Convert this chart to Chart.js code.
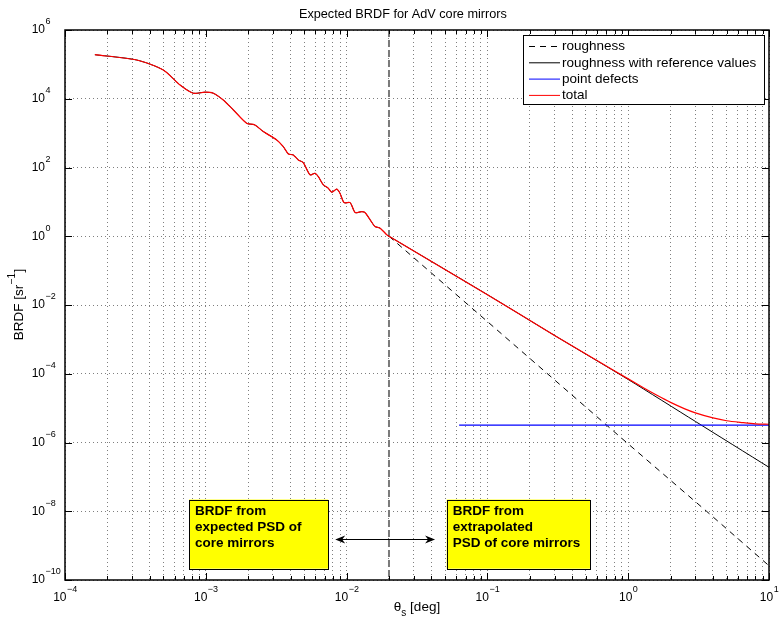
<!DOCTYPE html>
<html><head><meta charset="utf-8">
<script src="https://cdn.jsdelivr.net/npm/chart.js@4"></script>
<style>html,body{margin:0;padding:0;background:#fff}canvas{display:block}</style>
</head><body>
<canvas id="c" width="779" height="618"></canvas>
<script>
const FONT = '"Liberation Sans", Arial, Helvetica, sans-serif';

// ---- data ----
// low-angle part (BRDF from expected PSD) shared by roughness & total
const lowTheta = [1.63e-4, 3.23e-4, 4.99e-4, 6.56e-4, 8.15e-4, 9.86e-4, 1.13e-3, 1.33e-3, 1.57e-3, 1.95e-3, 2.23e-3, 2.56e-3, 3.19e-3, 3.55e-3, 3.86e-3, 4.18e-3, 4.54e-3, 4.92e-3, 5.50e-3, 5.97e-3, 6.30e-3, 6.84e-3, 7.41e-3, 7.83e-3, 8.51e-3, 8.97e-3, 9.60e-3, 1.06e-2, 1.15e-2, 1.28e-2, 1.35e-2, 1.47e-2, 1.59e-2, 1.73e-2, 1.93e-2, 2.0e-2];
const lowBrdf  = [1.91e5, 1.34e5, 6.87e4, 2.52e4, 1.45e4, 1.55e4, 1.45e4, 9.2e3, 4.72e3, 1.94e3, 1.73e3, 1.11e3, 634, 405, 248, 232, 166, 139, 61, 68, 54, 31.2, 25, 19.1, 23.4, 17.9, 9.5, 9.5, 4.89, 5.2, 4.9, 3.0, 1.92, 1.72, 1.1, 1.0];

// roughness (dashed, extrapolated)
const roughTheta = [0.02, 0.1, 1, 3.6, 10];
const roughBrdf  = [1.0, 3.3e-3, 9.1e-7, 1.0e-8, 2.6e-10];

// roughness with reference values
const refTheta = [0.1, 0.3, 1, 3, 10];
const refBrdf  = [0.02, 1.3e-3, 6.8e-5, 4.1e-6, 1.9e-7];

// point defects
const defectTheta = [0.063, 10];
const defectBrdf  = [3.2e-6, 3.2e-6];

// total
const totalTheta = [0.1, 0.3, 0.6, 1, 1.3, 1.6, 2, 2.5, 3, 4, 5, 6.5, 8, 10];
const totalBrdf  = [0.02, 1.3e-3, 2.43e-4, 7.1e-5, 3.78e-5, 2.36e-5, 1.47e-5, 9.7e-6, 7.3e-6, 5.2e-6, 4.3e-6, 3.8e-6, 3.5e-6, 3.4e-6];

// boundary between expected / extrapolated PSD
const boundaryTheta = 0.02;

// tick labels (powers of ten)
const xTickExp = [-4, -3, -2, -1, 0, 1];
const yTickExp = [-10, -8, -6, -4, -2, 0, 2, 4, 6];

const noteLeft  = ['BRDF from', 'expected PSD of', 'core mirrors'];
const noteRight = ['BRDF from', 'extrapolated', 'PSD of core mirrors'];

const titleText = 'Expected BRDF for AdV core mirrors';
// ------------------------------------

const zip = (xs, ys) => xs.map((x, i) => ({x, y: ys[i]}));

const xTicks = [];
xTickExp.forEach(e => {
  if (e === xTickExp[xTickExp.length - 1]) { xTicks.push(Math.pow(10, e)); return; }
  for (let m = 1; m <= 9; m++) xTicks.push(m * Math.pow(10, e));
});
const yTicks = yTickExp.map(e => Math.pow(10, e));

const GRID = 'rgba(0,0,0,0.5)';
const TXT = '13.5px ' + FONT;

function drawPow(ctx, exp, x, y, mode) {
  const base = '10';
  const ex = (exp < 0 ? '\u2212' : '') + Math.abs(exp);
  ctx.font = '12px ' + FONT;
  const wb = ctx.measureText(base).width;
  ctx.font = '9px ' + FONT;
  const we = ctx.measureText(ex).width;
  let bx;
  if (mode === 'center') bx = x - (wb + we) / 2;
  else bx = x - wb; // base right-aligned at x
  ctx.textBaseline = 'middle';
  ctx.textAlign = 'left';
  ctx.fillStyle = '#000';
  ctx.font = '12px ' + FONT;
  ctx.fillText(base, bx, y);
  ctx.font = '9px ' + FONT;
  ctx.fillText(ex, bx + wb + 0.5, y - 8);
}

const decor = {
  id: 'decor',
  beforeDatasetsDraw(chart) {
    const {ctx, chartArea: a, scales: {x}} = chart;
    const px = x.getPixelForValue(boundaryTheta);
    ctx.save();
    ctx.strokeStyle = '#7a7a7a';
    ctx.lineWidth = 2;
    ctx.setLineDash([7, 3]);
    ctx.beginPath();
    ctx.moveTo(px, a.top);
    ctx.lineTo(px, a.bottom);
    ctx.stroke();
    ctx.restore();
  },
  afterDraw(chart) {
    const {ctx, chartArea: a, scales: {x, y}} = chart;
    ctx.save();
    // box
    ctx.strokeStyle = '#000';
    ctx.lineWidth = 1.5;
    ctx.setLineDash([]);
    ctx.strokeRect(a.left, a.top, a.right - a.left, a.bottom - a.top);
    // inward ticks
    ctx.lineWidth = 1;
    ctx.beginPath();
    xTicks.forEach(v => {
      const p = Math.round(x.getPixelForValue(v)) + 0.5;
      const major = Math.abs(Math.log10(v) - Math.round(Math.log10(v))) < 1e-9;
      const L = major ? 7 : 4;
      ctx.moveTo(p, a.bottom); ctx.lineTo(p, a.bottom - L);
      ctx.moveTo(p, a.top); ctx.lineTo(p, a.top + L);
    });
    yTicks.forEach(v => {
      const p = Math.round(y.getPixelForValue(v)) + 0.5;
      ctx.moveTo(a.left, p); ctx.lineTo(a.left + 7, p);
      ctx.moveTo(a.right, p); ctx.lineTo(a.right - 7, p);
    });
    ctx.stroke();

    // tick labels
    xTickExp.forEach(e => drawPow(ctx, e, x.getPixelForValue(Math.pow(10, e)), a.bottom + 17.5, 'center'));
    yTickExp.forEach(e => drawPow(ctx, e, a.left - 20, y.getPixelForValue(Math.pow(10, e)), 'right'));

    // title
    ctx.fillStyle = '#000';
    ctx.font = '12.7px ' + FONT;
    ctx.textAlign = 'center';
    ctx.textBaseline = 'middle';
    ctx.fillText(titleText, a.left + (a.right - a.left) * 0.48, 14.5);

    // x axis title: theta_s [deg]
    {
      const t1 = '\u03b8', t2 = 's', t3 = ' [deg]';
      ctx.font = TXT; const w1 = ctx.measureText(t1).width; const w3 = ctx.measureText(t3).width;
      ctx.font = '10px ' + FONT; const w2 = ctx.measureText(t2).width;
      const cx = (a.left + a.right) / 2;
      let sx = cx - (w1 + w2 + w3) / 2;
      const cy = a.bottom + 27;
      ctx.textAlign = 'left';
      ctx.font = TXT; ctx.fillText(t1, sx, cy);
      ctx.font = '10px ' + FONT; ctx.fillText(t2, sx + w1, cy + 6);
      ctx.font = TXT; ctx.fillText(t3, sx + w1 + w2, cy);
    }
    // y axis title: BRDF [sr^-1]
    {
      const t1 = 'BRDF [sr', t2 = '\u22121', t3 = ']';
      ctx.font = TXT; const w1 = ctx.measureText(t1).width; const w3 = ctx.measureText(t3).width;
      ctx.font = '10px ' + FONT; const w2 = ctx.measureText(t2).width;
      ctx.save();
      ctx.translate(19, (a.top + a.bottom) / 2);
      ctx.rotate(-Math.PI / 2);
      let sx = -(w1 + w2 + w3) / 2;
      ctx.textAlign = 'left';
      ctx.font = TXT; ctx.fillText(t1, sx, 0);
      ctx.font = '10px ' + FONT; ctx.fillText(t2, sx + w1 + 0.5, -7);
      ctx.font = TXT; ctx.fillText(t3, sx + w1 + w2 + 1, 0);
      ctx.restore();
    }

    // legend
    {
      const order = [3, 2, 1, 0];
      const lx = a.right - 246, ly = a.top + 5, lw = 241, lh = 69;
      ctx.fillStyle = '#fff';
      ctx.fillRect(lx, ly, lw, lh);
      ctx.strokeStyle = '#000'; ctx.lineWidth = 1; ctx.setLineDash([]);
      ctx.strokeRect(Math.round(lx) + 0.5, Math.round(ly) + 0.5, lw, lh);
      order.forEach((di, i) => {
        const ds = chart.data.datasets[di];
        const ry = ly + 11.5 + i * 16.3;
        ctx.strokeStyle = ds.borderColor;
        ctx.lineWidth = 1;
        ctx.setLineDash(ds.borderDash || []);
        ctx.beginPath(); ctx.moveTo(lx + 6, ry); ctx.lineTo(lx + 37, ry); ctx.stroke();
        ctx.setLineDash([]);
        ctx.fillStyle = '#000';
        ctx.font = TXT;
        ctx.textAlign = 'left'; ctx.textBaseline = 'middle';
        ctx.fillText(ds.label, lx + 39, ry);
      });
    }

    // annotation boxes
    const note = (x1, x2, y1, y2, lines) => {
      const X1 = x.getPixelForValue(x1), X2 = x.getPixelForValue(x2);
      const Y1 = y.getPixelForValue(y1), Y2 = y.getPixelForValue(y2);
      ctx.fillStyle = '#ffff00';
      ctx.fillRect(X1, Y1, X2 - X1, Y2 - Y1);
      ctx.strokeStyle = '#000'; ctx.lineWidth = 1; ctx.setLineDash([]);
      ctx.strokeRect(Math.round(X1) + 0.5, Math.round(Y1) + 0.5, Math.round(X2 - X1), Math.round(Y2 - Y1));
      ctx.fillStyle = '#000';
      ctx.font = 'bold 13.5px ' + FONT;
      ctx.textAlign = 'left'; ctx.textBaseline = 'alphabetic';
      lines.forEach((s, i) => ctx.fillText(s, X1 + 6, Y1 + 15.5 + i * 16));
    };
    note(7.6e-4, 7.4e-3, Math.pow(10, -7.66), Math.pow(10, -9.67), noteLeft);
    note(0.0514, 0.536, Math.pow(10, -7.66), Math.pow(10, -9.67), noteRight);

    // double arrow
    {
      const X1 = x.getPixelForValue(8.3e-3), X2 = x.getPixelForValue(0.0425);
      const Y = Math.round(y.getPixelForValue(Math.pow(10, -8.8))) + 0.5;
      ctx.strokeStyle = '#000'; ctx.lineWidth = 1;
      ctx.beginPath(); ctx.moveTo(X1 + 4, Y); ctx.lineTo(X2 - 4, Y); ctx.stroke();
      ctx.fillStyle = '#000';
      ctx.beginPath();
      ctx.moveTo(X1, Y); ctx.lineTo(X1 + 10, Y - 4); ctx.lineTo(X1 + 7, Y); ctx.lineTo(X1 + 10, Y + 4); ctx.closePath();
      ctx.moveTo(X2, Y); ctx.lineTo(X2 - 10, Y - 4); ctx.lineTo(X2 - 7, Y); ctx.lineTo(X2 - 10, Y + 4); ctx.closePath();
      ctx.fill();
    }
    ctx.restore();
  }
};

const lineDs = (label, xs, ys, color, extra) => Object.assign({
  label, data: zip(xs, ys), borderColor: color, backgroundColor: color,
  borderWidth: 1, showLine: true, pointRadius: 0, fill: false, tension: 0.25
}, extra || {});

new Chart(document.getElementById('c').getContext('2d'), {
  type: 'scatter',
  data: {
    datasets: [
      lineDs('total', lowTheta.concat(totalTheta), lowBrdf.concat(totalBrdf), '#ff0000', {order: 0, borderWidth: 1.2}),
      lineDs('point defects', defectTheta, defectBrdf, '#0000ff', {order: 1, borderWidth: 1.2, tension: 0}),
      lineDs('roughness with reference values', lowTheta.concat(refTheta), lowBrdf.concat(refBrdf), '#000000', {order: 2}),
      lineDs('roughness', roughTheta, roughBrdf, '#000000', {order: 3, borderDash: [6, 5], tension: 0})
    ]
  },
  options: {
    responsive: false,
    animation: false,
    events: [],
    layout: {padding: {left: 65, right: 10, top: 30, bottom: 38}},
    plugins: {legend: {display: false}, title: {display: false}, tooltip: {enabled: false}},
    scales: {
      x: {
        type: 'logarithmic', min: 1e-4, max: 10,
        afterBuildTicks: s => { s.ticks = xTicks.map(v => ({value: v})); },
        ticks: {display: false},
        grid: {color: GRID, lineWidth: 1, drawTicks: false},
        border: {display: false, dash: [1, 3]}
      },
      y: {
        type: 'logarithmic', min: 1e-10, max: 1e6,
        afterBuildTicks: s => { s.ticks = yTicks.map(v => ({value: v})); },
        ticks: {display: false},
        grid: {color: GRID, lineWidth: 1, drawTicks: false},
        border: {display: false, dash: [1, 3]}
      }
    }
  },
  plugins: [decor]
});
</script>
</body></html>
